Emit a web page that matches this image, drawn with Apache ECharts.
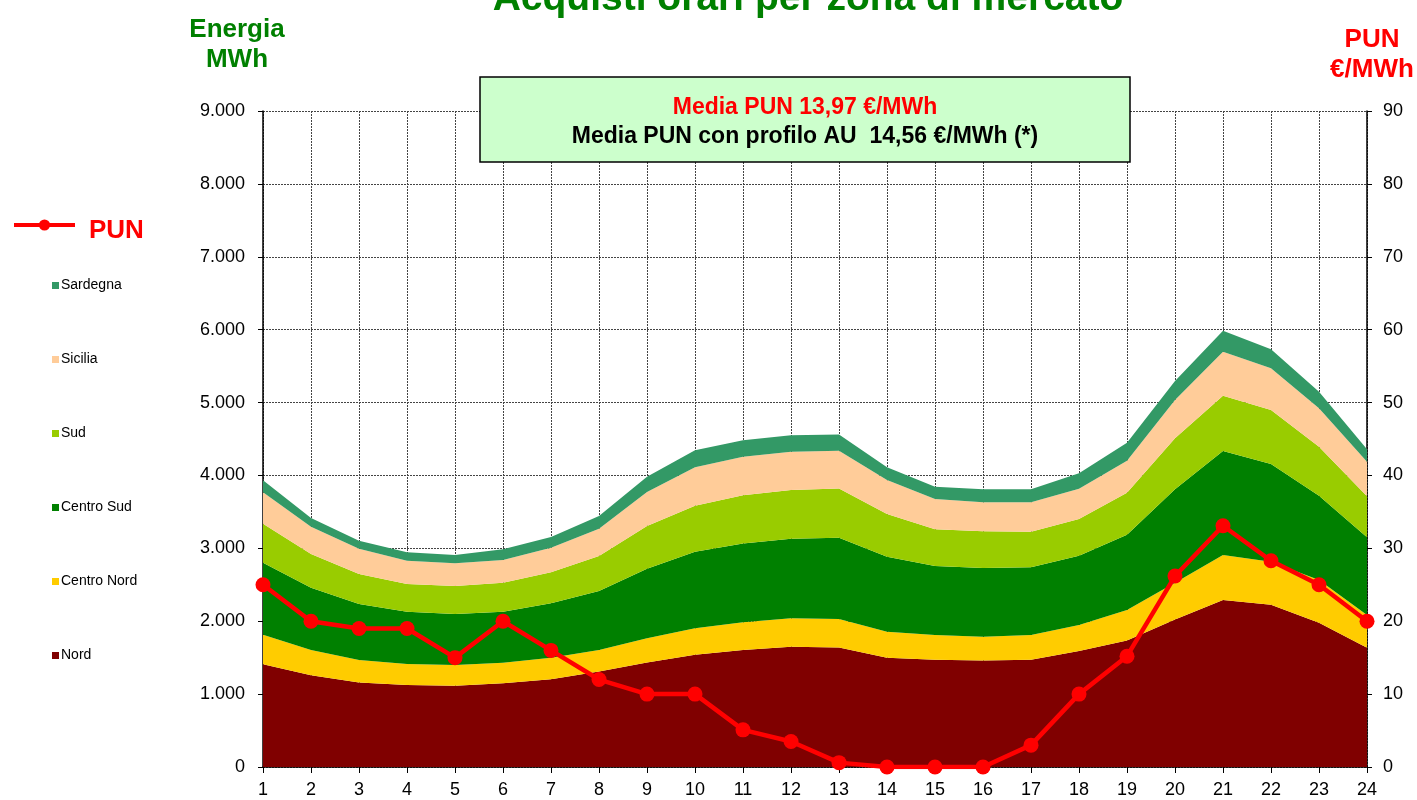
<!DOCTYPE html>
<html>
<head>
<meta charset="utf-8">
<script src="https://cdn.jsdelivr.net/npm/echarts@6/dist/echarts.min.js"></script>
<style>
html,body{margin:0;padding:0;background:#fff;}
#chart{width:1417px;height:800px;}
</style>
</head>
<body>
<div id="chart"></div>
<script>
const hours = ['1','2','3','4','5','6','7','8','9','10','11','12','13','14','15','16','17','18','19','20','21','22','23','24'];
const nord = [1410,1260,1160,1125,1115,1150,1205,1310,1435,1540,1605,1650,1640,1500,1470,1460,1470,1590,1735,2025,2290,2225,1980,1637];
const centroNord = [405,345,308,288,284,281,295,295,330,362,380,390,390,357,341,328,341,358,419,504,618,592,585,448];
const centroSud = [988,855,768,718,700,700,745,810,956,1052,1083,1093,1116,1029,946,942,928,951,1033,1280,1427,1340,1157,1066];
const sud = [535,462,412,380,384,398,426,480,585,631,659,667,674,585,504,503,490,503,577,700,759,741,673,565];
const sicilia = [430,375,347,320,311,311,338,375,467,526,530,526,520,466,416,398,402,416,439,526,604,571,526,473];
const sardegna = [165,119,110,114,114,146,146,174,210,233,225,224,222,174,169,178,178,211,247,261,288,261,228,170];
const pun = [25,20,19,19,15,20,16,12,10,10,5.1,3.5,0.6,0,0,0,3,10,15.2,26.2,33.1,28.3,25,20];
const leftTicks = [0,9000,1000];
const rightTicks = [0,90,10];

const FONT = "'Liberation Sans', Arial, sans-serif";
const chart = echarts.init(document.getElementById('chart'));

function area(name, data, color) {
  return {
    name: name, type: 'line', stack: 'tot', data: data,
    symbol: 'none', lineStyle: {width: 0}, areaStyle: {color: color, opacity: 1},
    itemStyle: {color: color}, emphasis: {disabled: true}, z: 2
  };
}

const option = {
  animation: false,
  backgroundColor: '#ffffff',
  textStyle: {fontFamily: FONT},
  grid: {left: 263, right: 50, top: 111, bottom: 33, containLabel: false},
  legend: [
    {
      data: ['PUN'], orient: 'vertical', left: 12, top: 218, padding: 0,
      itemWidth: 61, itemHeight: 14, itemGap: 0,
      lineStyle: {width: 4, color: '#FF0000'},
      formatter: '{p|{name}}',
      textStyle: {
        color: '#FF0000', fontSize: 26, fontWeight: 'bold', fontFamily: FONT, padding: [0,0,0,9],
        rich: {p: {color: '#FF0000', fontSize: 26, fontWeight: 'bold', fontFamily: FONT, padding: [12,0,0,0]}}
      },
      selectedMode: false
    },
    {
      data: [
        {name: 'Sardegna', icon: 'rect'},
        {name: 'Sicilia', icon: 'rect'},
        {name: 'Sud', icon: 'rect'},
        {name: 'Centro Sud', icon: 'rect'},
        {name: 'Centro Nord', icon: 'rect'},
        {name: 'Nord', icon: 'rect'}
      ],
      orient: 'vertical', left: 52, top: 278, padding: 0,
      itemWidth: 7, itemHeight: 7, itemGap: 59,
      textStyle: {color: '#000', fontSize: 14, fontFamily: FONT, padding: [0,0,0,-3], lineHeight: 15},
      selectedMode: false
    }
  ],
  xAxis: {
    type: 'category', data: hours, boundaryGap: false,
    axisLine: {show: true, lineStyle: {color: '#000', width: 1.5}},
    axisTick: {show: true, interval: 0, length: 6, lineStyle: {color: '#000'}},
    axisLabel: {interval: 0, color: '#000', fontSize: 18, margin: 14, fontFamily: FONT},
    splitLine: {show: true, interval: 0, lineStyle: {color: '#444', type: [2, 1], width: 1}}
  },
  yAxis: [
    {
      type: 'value', min: leftTicks[0], max: leftTicks[1], interval: leftTicks[2], position: 'left',
      axisLine: {show: true, lineStyle: {color: '#000', width: 1.5}},
      axisTick: {show: true, length: 5, lineStyle: {color: '#000'}},
      axisLabel: {color: '#000', fontSize: 18, margin: 18, fontFamily: FONT,
        formatter: v => v === 0 ? '0' : String(v).replace(/\B(?=(\d{3})+(?!\d))/g, '.')},
      splitLine: {show: true, lineStyle: {color: '#444', type: [2, 1], width: 1}}
    },
    {
      type: 'value', min: rightTicks[0], max: rightTicks[1], interval: rightTicks[2], position: 'right',
      axisLine: {show: true, lineStyle: {color: '#000', width: 1.5}},
      axisTick: {show: true, length: 5, lineStyle: {color: '#000'}},
      axisLabel: {color: '#000', fontSize: 18, margin: 16, fontFamily: FONT},
      splitLine: {show: false}
    }
  ],
  series: [
    area('Nord', nord, '#800000'),
    area('Centro Nord', centroNord, '#FFCC00'),
    area('Centro Sud', centroSud, '#008000'),
    area('Sud', sud, '#99CC00'),
    area('Sicilia', sicilia, '#FFCC99'),
    area('Sardegna', sardegna, '#339966'),
    {
      name: 'PUN', type: 'line', yAxisIndex: 1, data: pun,
      symbol: 'circle', symbolSize: 15,
      lineStyle: {color: '#FF0000', width: 4.5},
      itemStyle: {color: '#FF0000'},
      emphasis: {disabled: true}, z: 5
    }
  ],
  graphic: [
    {
      type: 'text', x: 808, y: -20, z: 10,
      style: {text: 'Acquisti orari per zona di mercato', fill: '#008000', font: "bold 39px " + FONT, textAlign: 'center'}
    },
    {
      type: 'text', x: 237, y: 15, z: 10,
      style: {text: 'Energia\nMWh', fill: '#008000', font: "bold 26px " + FONT, textAlign: 'center', lineHeight: 30}
    },
    {
      type: 'text', x: 1372, y: 25, z: 10,
      style: {text: 'PUN\n€/MWh', fill: '#FF0000', font: "bold 26px " + FONT, textAlign: 'center', lineHeight: 30}
    },
    {
      type: 'rect', z: 10,
      shape: {x: 480, y: 77, width: 650, height: 85},
      style: {fill: '#CCFFCC', stroke: '#000', lineWidth: 1.5}
    },
    {
      type: 'text', z: 11, x: 805, y: 108,
      style: {text: 'Media PUN 13,97 €/MWh', fill: '#FF0000', font: "bold 23px " + FONT, textAlign: 'center', textVerticalAlign: 'middle'}
    },
    {
      type: 'text', z: 11, x: 805, y: 137,
      style: {text: 'Media PUN con profilo AU  14,56 €/MWh (*)', fill: '#000', font: "bold 23px " + FONT, textAlign: 'center', textVerticalAlign: 'middle'}
    }
  ]
};
chart.setOption(option);
</script>
</body>
</html>
